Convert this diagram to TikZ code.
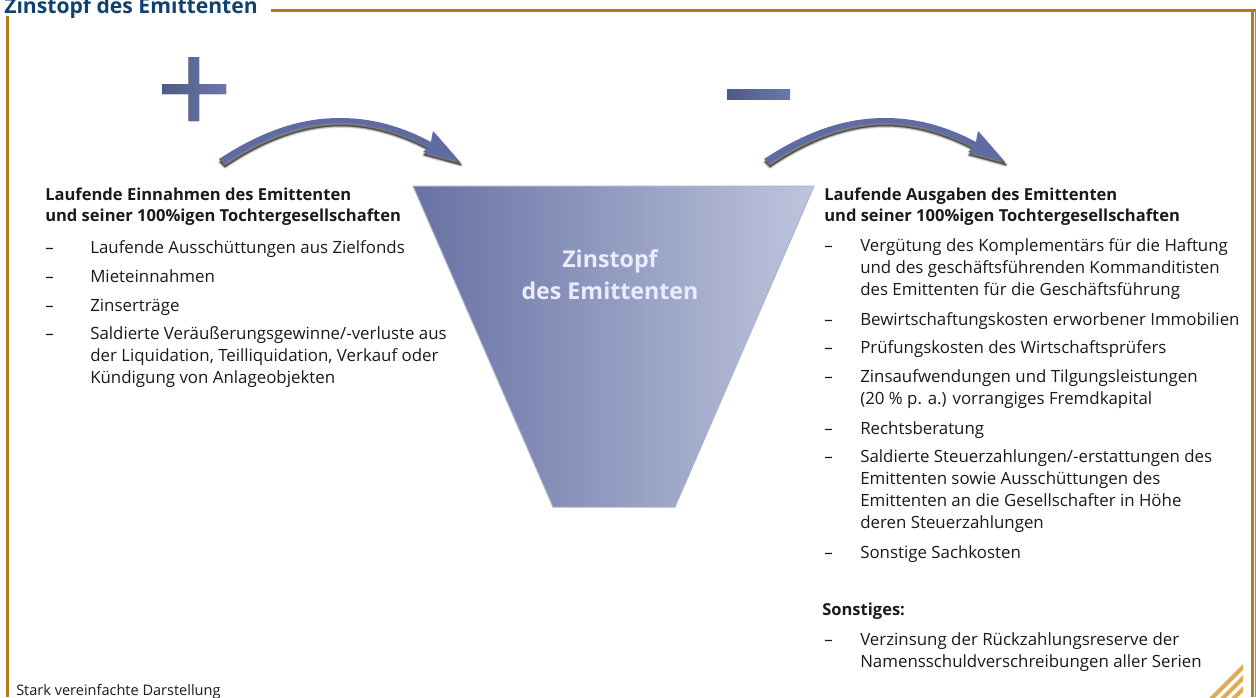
\documentclass[tikz,border=0pt]{standalone}
\usepackage{fontspec}
\setmainfont{Open Sans}
\definecolor{gold}{HTML}{B27A1E}
\definecolor{stripe}{HTML}{DDAC55}
\definecolor{titleblue}{HTML}{0F4272}
\definecolor{arrowblue}{HTML}{5F6CA3}
\definecolor{ink}{HTML}{1A1A1A}
\definecolor{signL}{HTML}{4F5A85}
\definecolor{signR}{HTML}{6B78A9}
\definecolor{potL}{HTML}{6772A3}
\definecolor{potR}{HTML}{BEC5DD}
\definecolor{potB}{HTML}{AAB2D0}
\newcommand{\arrowpath}{(219,159) .. controls (262,131) and (300,118) .. (340,118) .. controls (375,118) and (405,128) .. (431,142) -- (433,131) -- (460,162) -- (423,152) -- (428,147) .. controls (403,134) and (372,123) .. (340,123) .. controls (305,123) and (265,136) .. (224,164) -- cycle}
\newcommand{\fancyarrow}{%
  \foreach \w/\o in {4/0.10,2.5/0.18,1/0.3}{
    \draw[black,opacity=\o,line width=\w*0.75pt,line join=round,fill=black,shift={(1,3)}] \arrowpath;
  }
  \fill[arrowblue] \arrowpath;
}
\tikzset{
  x=0.75pt,y=-0.75pt,
  frameline/.style={gold,line width=2.25pt},
  signbar/.style={left color=signL,right color=signR},
  bodytext/.style={anchor=north west,inner sep=0pt,align=left,text=ink,font=\fontsize{12.65pt}{16.4pt}\selectfont},
  headtext/.style={bodytext,font=\fontsize{12.4pt}{15.8pt}\selectfont\bfseries},
}
\begin{document}
\begin{tikzpicture}
\useasboundingbox (0,0) rectangle (1256,697);
\fill[white] (0,0) rectangle (1256,697);
% frame
\draw[frameline] (7,16) -- (7,697);
\draw[frameline] (271,10) -- (1256,10);
\draw[frameline] (1252.5,10) -- (1252.5,697);
\fill[gray!90] (1254.5,11) rectangle (1256,697);
\node[anchor=base west,inner sep=0pt,text=titleblue,font=\fontsize{15.85pt}{18pt}\selectfont\bfseries] (title) at (4,13) {Zinstopf des Emittenten};
% stripes
\begin{scope}
\clip (1200,660) rectangle (1243,697);
\foreach \d in {0,11,22}{
  \draw[stripe,line width=3pt] (1243,667+\d) ++(12,-12) -- ++(-60,60);
}
\end{scope}
% plus / minus
\fill[signbar] (188.5,57) -- (199,57) -- (199,84) -- (226,84) -- (226,94) -- (199,94) -- (199,121) -- (188.5,121) -- (188.5,94) -- (162,94) -- (162,84) -- (188.5,84) -- cycle;
\fill[signbar] (727,89) rectangle (790,99);
% arrows
\fancyarrow
\begin{scope}[shift={(545,0)}]
\fancyarrow
\end{scope}
% funnel
\path[left color=potL,right color=potR,draw=potB,line width=0.75pt] (413,186) -- (814,186) -- (675,507) -- (553,507) -- cycle;
\node[anchor=center,align=center,inner sep=0pt,text=white!92!blue,font=\fontsize{17.4pt}{24pt}\selectfont\bfseries] (pot) at (610,275) {Zinstopf\\des Emittenten};
% left column
\node[headtext] (lh) at (45,185) {\strut Laufende Einnahmen des Emittenten\\und seiner 100\%igen Tochtergesellschaften};
\node[bodytext] (ld1) at (45,238) {\strut –};
\node[bodytext] (l1) at (90,238) {\strut Laufende Ausschüttungen aus Zielfonds};
\node[bodytext] (ld2) at (45,267) {\strut –};
\node[bodytext] (l2) at (90,267) {\strut Mieteinnahmen};
\node[bodytext] (ld3) at (45,296) {\strut –};
\node[bodytext] (l3) at (90,296) {\strut Zinserträge};
\node[bodytext] (ld4) at (45,324) {\strut –};
\node[bodytext] (l4) at (90,324) {\strut Saldierte Veräußerungsgewinne/-verluste aus\\der Liquidation, Teilliquidation, Verkauf oder\\Kündigung von Anlageobjekten};
% right column
\node[headtext] (rh) at (824,185) {\strut Laufende Ausgaben des Emittenten\\und seiner 100\%igen Tochtergesellschaften};
\node[bodytext] (rd1) at (824,236) {\strut –};
\node[bodytext] (r1) at (860,236) {\strut Vergütung des Komplementärs für die Haftung\\und des geschäftsführenden Kommanditisten\\des Emittenten für die Geschäftsführung};
\node[bodytext] (rd2) at (824,310) {\strut –};
\node[bodytext] (r2) at (860,310) {\strut Bewirtschaftungskosten erworbener Immobilien};
\node[bodytext] (rd3) at (824,338) {\strut –};
\node[bodytext] (r3) at (860,338) {\strut Prüfungskosten des Wirtschaftsprüfers};
\node[bodytext] (rd4) at (824,367) {\strut –};
\node[bodytext] (r4) at (860,367) {\strut Zinsaufwendungen und Tilgungsleistungen\\(20 \% p. a.) vorrangiges Fremdkapital};
\node[bodytext] (rd5) at (824,419) {\strut –};
\node[bodytext] (r5) at (860,419) {\strut Rechtsberatung};
\node[bodytext] (rd6) at (824,447) {\strut –};
\node[bodytext] (r6) at (860,447) {\strut Saldierte Steuerzahlungen/-erstattungen des\\Emittenten sowie Ausschüttungen des\\Emittenten an die Gesellschafter in Höhe\\deren Steuerzahlungen};
\node[bodytext] (rd7) at (824,543) {\strut –};
\node[bodytext] (r7) at (860,543) {\strut Sonstige Sachkosten};
\node[headtext] (rs) at (822,600) {\strut Sonstiges:};
\node[bodytext] (rd8) at (824,630) {\strut –};
\node[bodytext] (r8) at (860,630) {\strut Verzinsung der Rückzahlungsreserve der\\Namensschuldverschreibungen aller Serien};
\node[anchor=base west,inner sep=0pt,text=ink,font=\fontsize{10.9pt}{12pt}\selectfont] (foot) at (16,695) {Stark vereinfachte Darstellung};
\end{tikzpicture}
\end{document}
